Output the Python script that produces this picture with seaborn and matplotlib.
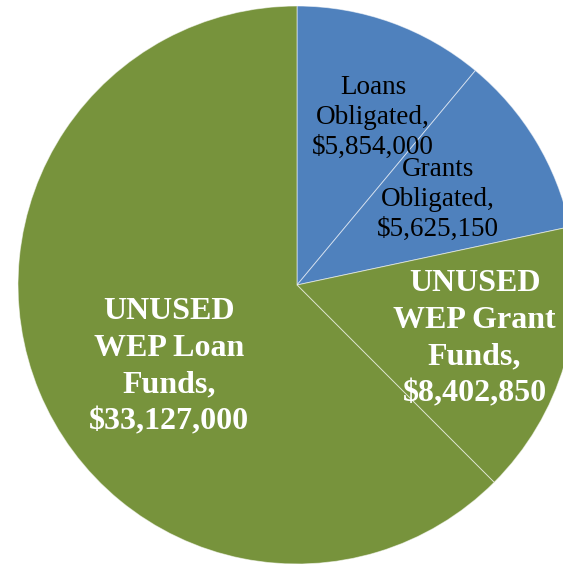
import numpy as np
import matplotlib
matplotlib.use("Agg")
import matplotlib.pyplot as plt
import seaborn as sns

categories = ["Loans\nObligated,\n$5,854,000",
              "Grants\nObligated,\n$5,625,150",
              "UNUSED\nWEP Grant\nFunds,\n$8,402,850",
              "UNUSED\nWEP Loan\nFunds,\n$33,127,000"]
values = [5854000, 5625150, 8402850, 33127000]
colors = ["#4F81BD", "#4F81BD", "#77933C", "#77933C"]

sns.set_style("white")
plt.rcParams["font.family"] = ["Liberation Serif", "DejaVu Serif"]

W, H = 563, 566
fig = plt.figure(figsize=(W / 100, H / 100), dpi=100)
ax = fig.add_axes([0, 0, 1, 1])
ax.set_xlim(0, W)
ax.set_ylim(0, H)
ax.set_aspect("equal")
ax.axis("off")

cx, cy, R = 297, H - 285, 279
wedges, _ = ax.pie(values, colors=colors, startangle=90, counterclock=False,
                   radius=R, center=(cx, cy), frame=True,
                   wedgeprops=dict(linewidth=0.7, edgecolor=(1, 1, 1, 0.55)))
ax.set_xlim(0, W)
ax.set_ylim(0, H)
ax.axis("off")

# label styling: (radius fraction, angle offset deg, color, weight, size, linespacing)
styles = [
    (0.66, -4.6, "black", "normal", 19.5, 1.27),
    (0.59, 0.2, "black", "normal", 19.5, 1.27),
    (0.665, -0.3, "white", "bold", 23, 1.36),
    (0.545, 10.0, "white", "bold", 23, 1.36),
]
for w, lab, (rf, dth, col, wt, sz, ls) in zip(wedges, categories, styles):
    mid = np.deg2rad((w.theta1 + w.theta2) / 2 + dth)
    x = cx + rf * R * np.cos(mid)
    y = cy + rf * R * np.sin(mid)
    ax.text(x, y, lab, ha="center", va="center", color=col, fontweight=wt,
            fontsize=sz, linespacing=ls, multialignment="center")

fig.savefig("out.png", dpi=100)
